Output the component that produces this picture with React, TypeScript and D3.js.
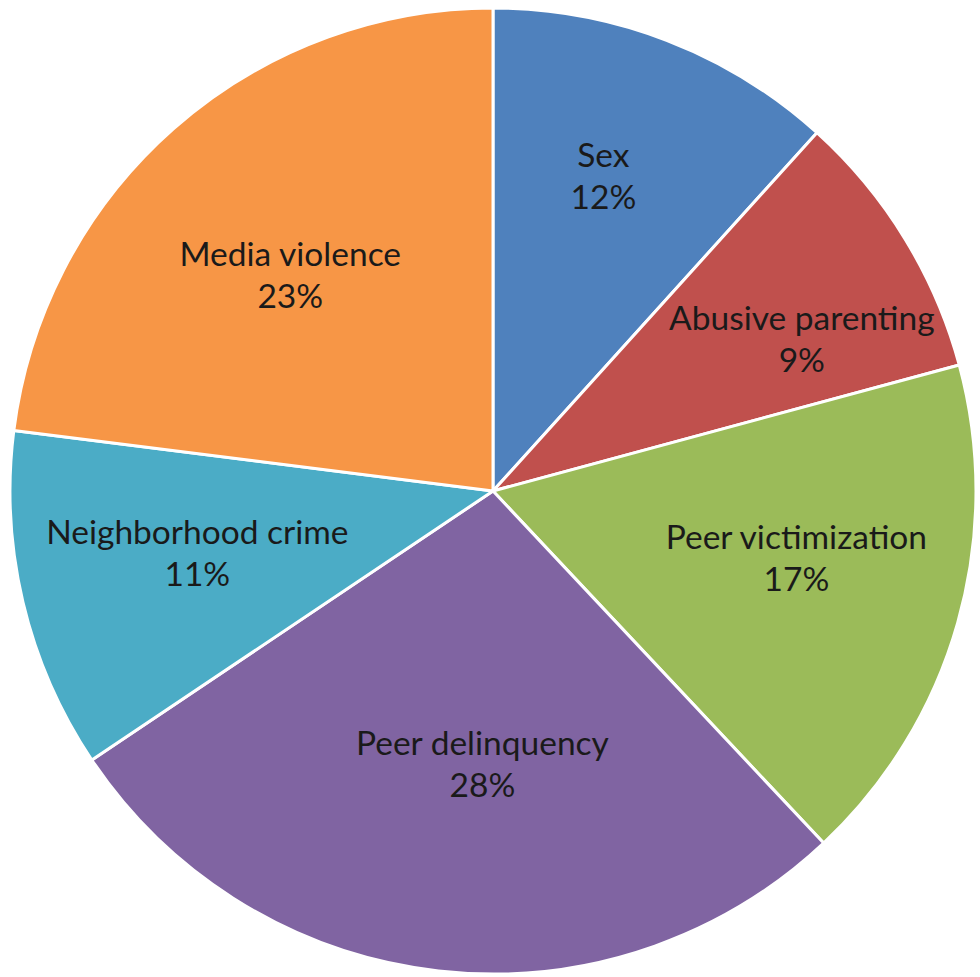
import React from "react";
import * as d3 from "d3";

const categories = [
  "Sex",
  "Abusive parenting",
  "Peer victimization",
  "Peer delinquency",
  "Neighborhood crime",
  "Media violence",
];
const values = [11.7, 9.1, 17.2, 27.6, 11.4, 23.0];
const percentLabels = ["12%", "9%", "17%", "28%", "11%", "23%"];
const colors = ["#4F81BD", "#C0504D", "#9BBB59", "#8064A2", "#4BACC6", "#F79646"];

// label placement (Excel "best fit"): fraction along the slice's angle, fraction of radius
const labelAngleFrac = [0.46, 0.67, 0.45, 0.457, 0.53, 0.476];
const labelRadiusFrac = [0.689, 0.711, 0.644, 0.569, 0.626, 0.611];

const W = 980;
const H = 977;
const CX = 493;
const CY = 491;
const R = 483;

export default function App() {
  const data = categories.map((c, i) => ({ name: c, value: values[i], label: percentLabels[i], color: colors[i] }));
  const pie = d3.pie<any>().sort(null).value((d: any) => d.value);
  const arcs = pie(data);
  const arcGen = d3.arc<any>().innerRadius(0).outerRadius(R);
  return (
    <svg width={W} height={H} style={{ position: "absolute", left: 0, top: 0 }}>
      <g transform={`translate(${CX},${CY})`}>
        {arcs.map((a, i) => (
          <path key={i} d={arcGen(a) as string} fill={a.data.color} stroke="#fff" strokeWidth={3} strokeLinejoin="round" />
        ))}
        {arcs.map((a, i) => {
          const ang = a.startAngle + (a.endAngle - a.startAngle) * labelAngleFrac[i];
          const rr = R * labelRadiusFrac[i];
          const x = rr * Math.sin(ang);
          const y = -rr * Math.cos(ang);
          return (
            <text key={"t" + i} textAnchor="middle" fontFamily="Lato, 'Open Sans', sans-serif" fontSize={33.5} fill="#1a1a1a">
              <tspan x={x} y={y - 10.5}>{a.data.name}</tspan>
              <tspan x={x} y={y + 31.5}>{a.data.label}</tspan>
            </text>
          );
        })}
      </g>
    </svg>
  );
}
